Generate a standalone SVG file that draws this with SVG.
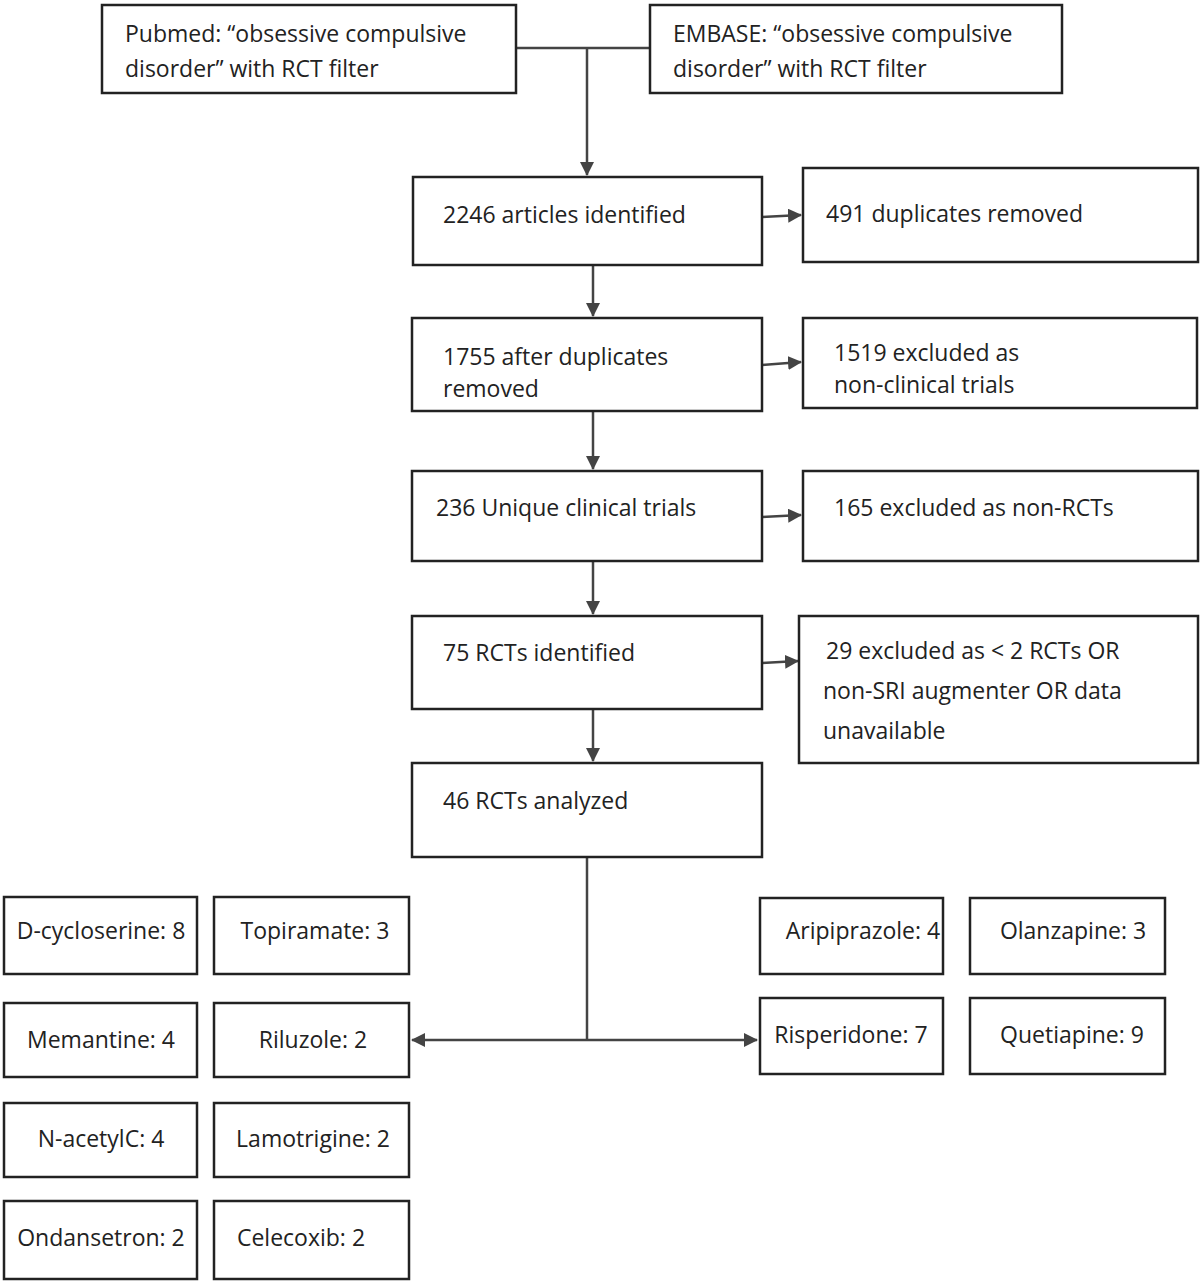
<svg xmlns="http://www.w3.org/2000/svg" width="1200" height="1285" viewBox="0 0 1200 1285">
<style>
rect{fill:#fff;stroke:#222;stroke-width:2.5}
text{font-family:"Open Sans","Liberation Sans",sans-serif;font-size:23px;fill:#222}
.c{text-anchor:middle}
.l{stroke:#444;stroke-width:2.5;fill:none}
</style>
<defs><marker id="b" markerWidth="14" markerHeight="14" refX="13" refY="7" orient="auto" markerUnits="userSpaceOnUse" viewBox="0 0 14 14"><path d="M0,0L14,7L0,14z" fill="#444"/></marker></defs>
<rect width="1200" height="1285" style="stroke:none"/>
<g id="connectors">
<path class="l" d="M516,48H650M587,48V175" marker-end="url(#b)"/>
<path class="l" d="M762,217L801,215" marker-end="url(#b)"/>
<path class="l" d="M593,265V316" marker-end="url(#b)"/>
<path class="l" d="M762,365L801,362" marker-end="url(#b)"/>
<path class="l" d="M593,411V469" marker-end="url(#b)"/>
<path class="l" d="M762,517L801,515" marker-end="url(#b)"/>
<path class="l" d="M593,561V614" marker-end="url(#b)"/>
<path class="l" d="M762,663L798,661" marker-end="url(#b)"/>
<path class="l" d="M593,709V761" marker-end="url(#b)"/>
<path class="l" d="M587,857V1040"/>
<path class="l" d="M587,1040H412" marker-end="url(#b)"/>
<path class="l" d="M587,1040H757" marker-end="url(#b)"/>
</g>
<g id="pubmed"><rect x="102" y="5" width="414" height="88"/><text x="125" y="42">Pubmed: “obsessive compulsive</text><text x="125" y="77">disorder” with RCT filter</text></g>
<g id="embase"><rect x="650" y="5" width="412" height="88"/><text x="673" y="42">EMBASE: “obsessive compulsive</text><text x="673" y="77">disorder” with RCT filter</text></g>
<g id="n2246"><rect x="413" y="177" width="349" height="88"/><text x="443" y="223">2246 articles identified</text></g>
<g id="n491"><rect x="803" y="168" width="395" height="94"/><text x="826" y="222">491 duplicates removed</text></g>
<g id="n1755"><rect x="412" y="318" width="350" height="93"/><text x="443" y="365">1755 after duplicates</text><text x="443" y="397">removed</text></g>
<g id="n1519"><rect x="803" y="318" width="394" height="90"/><text x="834" y="361">1519 excluded as</text><text x="834" y="393">non-clinical trials</text></g>
<g id="n236"><rect x="412" y="471" width="350" height="90"/><text x="436" y="516">236 Unique clinical trials</text></g>
<g id="n165"><rect x="803" y="471" width="395" height="90"/><text x="834" y="516">165 excluded as non-RCTs</text></g>
<g id="n75"><rect x="412" y="616" width="350" height="93"/><text x="443" y="661">75 RCTs identified</text></g>
<g id="n29"><rect x="799" y="616" width="399" height="147"/><text x="826" y="659">29 excluded as &lt; 2 RCTs OR</text><text x="823" y="699">non-SRI augmenter OR data</text><text x="823" y="739">unavailable</text></g>
<g id="n46"><rect x="412" y="763" width="350" height="94"/><text x="443" y="809">46 RCTs analyzed</text></g>
<g id="dcs"><rect x="4" y="897" width="193" height="77"/><text class="c" x="101" y="939">D-cycloserine: 8</text></g>
<g id="top"><rect x="214" y="897" width="195" height="77"/><text class="c" x="315" y="939">Topiramate: 3</text></g>
<g id="mem"><rect x="4" y="1003" width="193" height="74"/><text class="c" x="101" y="1048">Memantine: 4</text></g>
<g id="ril"><rect x="214" y="1003" width="195" height="74"/><text class="c" x="313" y="1048">Riluzole: 2</text></g>
<g id="nac"><rect x="4" y="1103" width="193" height="74"/><text class="c" x="101" y="1147">N-acetylC: 4</text></g>
<g id="lam"><rect x="214" y="1103" width="195" height="74"/><text class="c" x="313" y="1147">Lamotrigine: 2</text></g>
<g id="ond"><rect x="4" y="1201" width="193" height="78"/><text class="c" x="101" y="1246">Ondansetron: 2</text></g>
<g id="cel"><rect x="214" y="1201" width="195" height="78"/><text class="c" x="301" y="1246">Celecoxib: 2</text></g>
<g id="ari"><rect x="760" y="898" width="183" height="76"/><text class="c" x="863" y="939">Aripiprazole: 4</text></g>
<g id="ola"><rect x="970" y="898" width="195" height="76"/><text class="c" x="1073" y="939">Olanzapine: 3</text></g>
<g id="ris"><rect x="760" y="998" width="183" height="76"/><text class="c" x="851" y="1043">Risperidone: 7</text></g>
<g id="que"><rect x="970" y="998" width="195" height="76"/><text class="c" x="1072" y="1043">Quetiapine: 9</text></g>
</svg>
